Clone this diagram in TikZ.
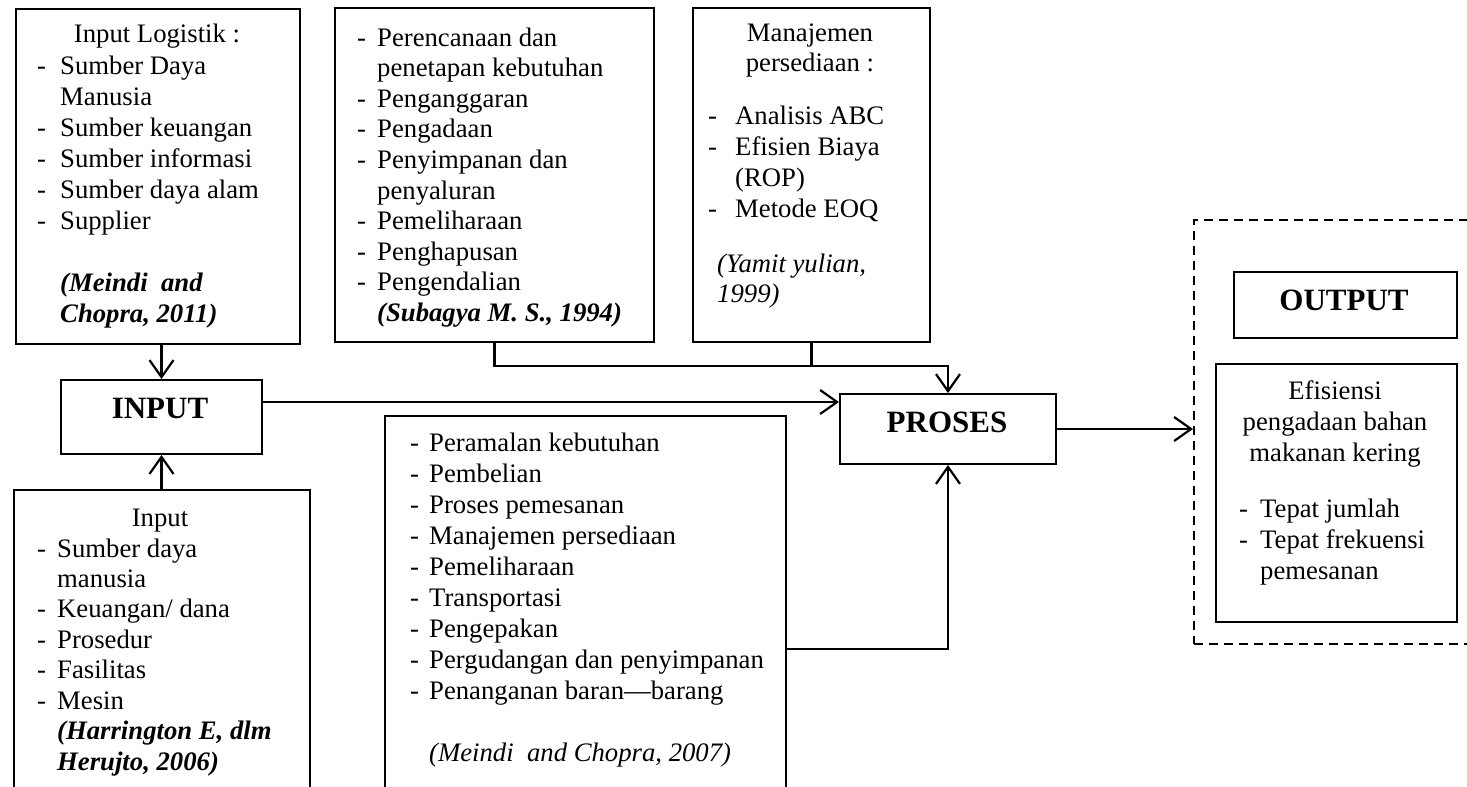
\documentclass[tikz,border=0pt]{standalone}
\usepackage{fontspec}
\setmainfont{Liberation Serif}
\usetikzlibrary{arrows.meta}
\newcommand\bodyf{\fontsize{26.7}{30.7}\selectfont}
\newcommand\labf{\fontsize{31}{36}\selectfont\bfseries}
\newcommand\cit[1]{\textbf{\textit{#1}}}
\begin{document}
\begin{tikzpicture}[x=1pt,y=-1pt,
  box/.style={draw, line width=2pt, inner sep=0pt, anchor=north west},
  dbox/.style={draw, line width=2pt, dash pattern=on 9pt off 6pt, inner sep=0pt, anchor=north west},
  conn/.style={line width=2.2pt},
  arr/.style={conn, -{Straight Barb[length=17pt,width=24pt]}},
  tl/.style={inner sep=0pt, anchor=base west, font=\bodyf},
  tc/.style={inner sep=0pt, anchor=base, font=\bodyf},
  lab/.style={inner sep=0pt, anchor=base, font=\labf}]
\useasboundingbox (0,0) rectangle (1467,787);
\clip (0,0) rectangle (1467,787);
\fill[white] (0,0) rectangle (1467,787);

% boxes
\node[box, minimum width=284pt, minimum height=335pt] (b1) at (15,8) {};
\node[box, minimum width=319pt, minimum height=334pt] (b2) at (334,7) {};
\node[box, minimum width=237pt, minimum height=334pt] (b3) at (692,7) {};
\node[box, minimum width=201pt, minimum height=74pt] (inp) at (60,379) {};
\node[box, minimum width=296pt, minimum height=330pt] (b5) at (13,489) {};
\node[box, minimum width=401pt, minimum height=400pt] (b4) at (384,415) {};
\node[box, minimum width=216pt, minimum height=70pt] (pro) at (839,393) {};
\node[dbox, minimum width=300pt, minimum height=424pt] (od) at (1193,219) {};
\node[box, minimum width=223pt, minimum height=66pt] (out) at (1233,271) {};
\node[box, minimum width=241pt, minimum height=258pt] (ef) at (1215,363) {};

% labels
\node[lab] (inl) at (160,418) {INPUT};
\node[lab] (prl) at (947,432) {PROSES};
\node[lab] (outl) at (1344,310) {OUTPUT};

% box 1
\node[tc] (t1h) at (157,42) {Input Logistik :};
\node[tl] (t1) at (37,74) {\def\arraystretch{1.01}\begin{tabular}[t]{@{}p{23pt}@{}l@{}}
- & Sumber Daya\\
  & Manusia\\
- & Sumber keuangan\\
- & Sumber informasi\\
- & Sumber daya alam\\
- & Supplier\\[31pt]
  & \cit{(Meindi\ \ and}\\
  & \cit{Chopra, 2011)}
\end{tabular}};

% box 2
\node[tl] (t2) at (357,46) {\def\arraystretch{0.997}\begin{tabular}[t]{@{}p{20pt}@{}l@{}}
- & Perencanaan dan\\
  & penetapan kebutuhan\\
- & Penganggaran\\
- & Pengadaan\\
- & Penyimpanan dan\\
  & penyaluran\\
- & Pemeliharaan\\
- & Penghapusan\\
- & Pengendalian\\
  & \cit{(Subagya M. S., 1994)}
\end{tabular}};

% box 3
\node[tc] (t3h) at (810,41) {\begin{tabular}[t]{@{}c@{}}Manajemen\\persediaan :\end{tabular}};
\node[tl] (t3) at (708,124) {\def\arraystretch{1.01}\begin{tabular}[t]{@{}p{27pt}@{}l@{}}
- & Analisis ABC\\
- & Efisien Biaya\\
  & (ROP)\\
- & Metode EOQ
\end{tabular}};
\node[tl] (t3c) at (717,272) {\begin{tabular}[t]{@{}l@{}}\textit{(Yamit yulian,}\\\textit{1999)}\end{tabular}};

% box 4
\node[tl] (t4) at (410,451) {\def\arraystretch{1.01}\begin{tabular}[t]{@{}p{19pt}@{}l@{}}
- & Peramalan kebutuhan\\
- & Pembelian\\
- & Proses pemesanan\\
- & Manajemen persediaan\\
- & Pemeliharaan\\
- & Transportasi\\
- & Pengepakan\\
- & Pergudangan dan penyimpanan\\
- & Penanganan baran—barang\\[31pt]
  & \textit{(Meindi\ \ and Chopra, 2007)}
\end{tabular}};

% box 5
\node[tc] (t5h) at (160,526) {Input};
\node[tl] (t5) at (37,557) {\def\arraystretch{0.993}\begin{tabular}[t]{@{}p{20pt}@{}l@{}}
- & Sumber daya\\
  & manusia\\
- & Keuangan/ dana\\
- & Prosedur\\
- & Fasilitas\\
- & Mesin\\
  & \cit{(Harrington E, dlm}\\
  & \cit{Herujto, 2006)}
\end{tabular}};

% output box
\node[tc] (t6h) at (1335,399) {\def\arraystretch{1.01}\begin{tabular}[t]{@{}c@{}}Efisiensi\\pengadaan bahan\\makanan kering\end{tabular}};
\node[tl] (t6) at (1239,517) {\def\arraystretch{1.01}\begin{tabular}[t]{@{}p{21pt}@{}l@{}}
- & Tepat jumlah\\
- & Tepat frekuensi\\
  & pemesanan
\end{tabular}};

% connectors
\coordinate (ly) at (0,366);
\coordinate (jn) at (pro.north |- ly);
\draw[arr] (inp.north |- b1.south) -- (inp.north);
\draw[arr] (inp.south |- b5.north) -- (inp.south);
\draw[arr] ([yshift=15pt]inp.east) -- ([yshift=15pt]inp.east -| pro.west);
\draw[arr] (b2.south) |- (jn) -- (pro.north);
\draw[conn] (b3.south) -- (b3.south |- ly);
\draw[arr] ([yshift=-234pt]b4.north east) -| (pro.south);
\draw[arr] (pro.east) -- (pro.east -| od.west);
\end{tikzpicture}
\end{document}
